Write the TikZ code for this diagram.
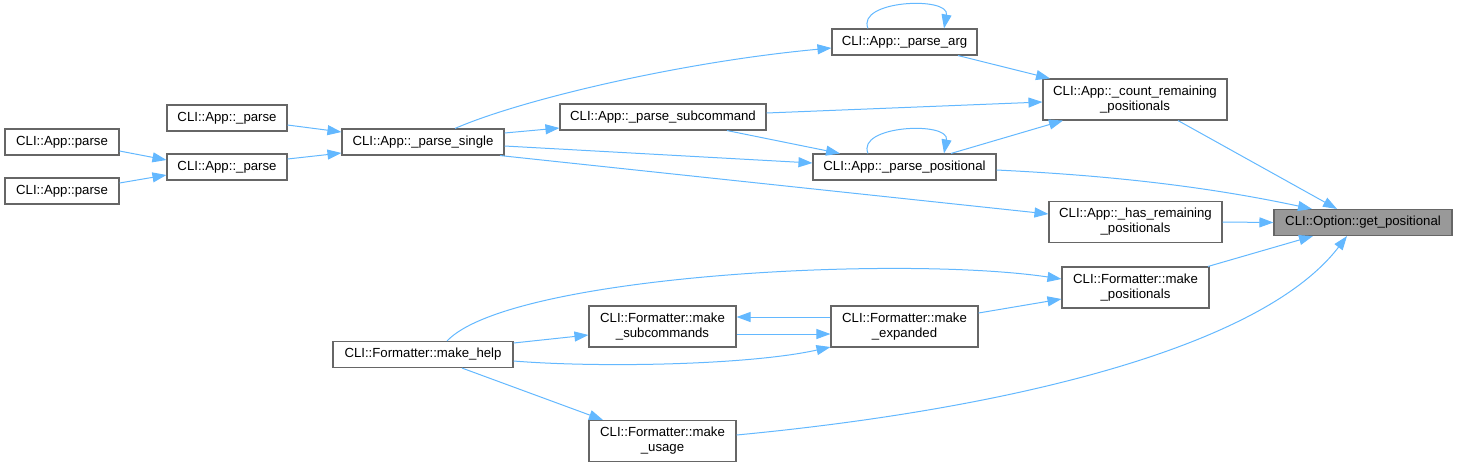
\documentclass[tikz,border=0pt]{standalone}
\usepackage{fontspec}
\setmainfont{Liberation Sans}
\usetikzlibrary{arrows.meta}
\definecolor{edge}{HTML}{63B8FF}
\definecolor{bord}{HTML}{666666}
\definecolor{gpfill}{HTML}{999999}
\begin{document}
\begin{tikzpicture}[x=1pt,y=-1pt,
  fn/.style={draw=bord,line width=1.1pt,fill=white,inner sep=0pt,align=center,
             font=\fontsize{13.2}{15}\selectfont,text=black},
  one/.style={fn,minimum height=26pt},
  two/.style={fn,minimum height=41pt},
  e/.style={draw=edge,line width=1pt,-{Triangle[length=14pt,width=10pt]}}]
\useasboundingbox (0,0) rectangle (1457,467);

% nodes
\node[one,minimum width=114pt] (p1) at (62,142) {CLI::App::parse};
\node[one,minimum width=114pt] (p2) at (62,191) {CLI::App::parse};
\node[one,minimum width=120pt] (pt) at (227,118) {CLI::App::\_parse};
\node[one,minimum width=120pt] (pb) at (227,167) {CLI::App::\_parse};
\node[one,minimum width=162pt] (ps) at (423,142) {CLI::App::\_parse\_single};
\node[one,minimum width=145pt] (arg) at (904.5,42) {CLI::App::\_parse\_arg};
\node[one,minimum width=206pt] (sub) at (663,117) {CLI::App::\_parse\_subcommand};
\node[one,minimum width=183pt] (pos) at (904.5,167) {CLI::App::\_parse\_positional};
\node[two,minimum width=184pt] (cnt) at (1135,99.5) {CLI::App::\_count\_remaining\\\_positionals};
\node[two,minimum width=173pt] (has) at (1135.5,222) {CLI::App::\_has\_remaining\\\_positionals};
\node[one,minimum width=178pt,fill=gpfill] (gp) at (1363,222.5) {CLI::Option::get\_positional};
\node[two,minimum width=147pt] (mpos) at (1135.5,287.5) {CLI::Formatter::make\\\_positionals};
\node[two,minimum width=147pt] (mexp) at (904.5,326.5) {CLI::Formatter::make\\\_expanded};
\node[two,minimum width=147pt] (msub) at (662.5,326.5) {CLI::Formatter::make\\\_subcommands};
\node[one,minimum width=180pt] (mhelp) at (423,354.5) {CLI::Formatter::make\_help};
\node[two,minimum width=147pt] (musage) at (662.5,441) {CLI::Formatter::make\\\_usage};

% edges
\draw[e] (p1.east |- 0,151) -- (pb.west |- 0,160);
\draw[e] (p2.east |- 0,183) -- (pb.west |- 0,175);
\draw[e] (pt.east |- 0,125) -- (ps.west |- 0,132);
\draw[e] (pb.east |- 0,159) -- (ps.west |- 0,153);
\draw[e] (ps.north -| 455,0) .. controls (520,100) and (680,62) .. (arg.west |- 0,48);
\draw[e] (ps.east |- 0,133) -- (sub.west |- 0,128);
\draw[e] (ps.east |- 0,146) -- (pos.west |- 0,163);
\draw[e] (ps.south -| 500,0) -- (has.west |- 0,214);
\draw[e] (arg.north -| 868,0) .. controls (856,0) and (950,-4) .. (arg.north -| 944,0);
\draw[e] (pos.north -| 868,0) .. controls (856,125) and (950,121) .. (pos.north -| 944,0);
\draw[e] (arg.south -| 958,0) -- (cnt.north -| 1050,0);
\draw[e] (sub.east |- 0,113) -- (cnt.west |- 0,102);
\draw[e] (sub.south -| 727,0) -- (pos.north -| 840,0);
\draw[e] (pos.north -| 951,0) -- (cnt.south -| 1063,0);
\draw[e] (pos.east |- 0,170) .. controls (1100,175) and (1200,185) .. (gp.north -| 1312,0);
\draw[e] (cnt.south -| 1178,0) -- (gp.north -| 1337,0);
\draw[e] (has.east) -- (gp.west);
\draw[e] (mpos.north -| 1208,0) -- (gp.south -| 1313,0);
\draw[e] (musage.east |- 0,435) .. controls (1000,410) and (1260,350) .. (gp.south -| 1347,0);
\draw[e] (mhelp.north -| 447,0) .. controls (510,275) and (900,255) .. (mpos.west |- 0,279);
\draw[e] (mhelp.east |- 0,343) -- (msub.west |- 0,335);
\draw[e] (mhelp.east |- 0,361) .. controls (600,368) and (750,365) .. (mexp.west |- 0,347);
\draw[e] (mhelp.south -| 462,0) -- (musage.north -| 603,0);
\draw[e] (msub.east |- 0,334) -- (mexp.west |- 0,334);
\draw[e] (mexp.west |- 0,317) -- (msub.east |- 0,317);
\draw[e] (mexp.east |- 0,313) -- (mpos.west |- 0,299);
\end{tikzpicture}
\end{document}
